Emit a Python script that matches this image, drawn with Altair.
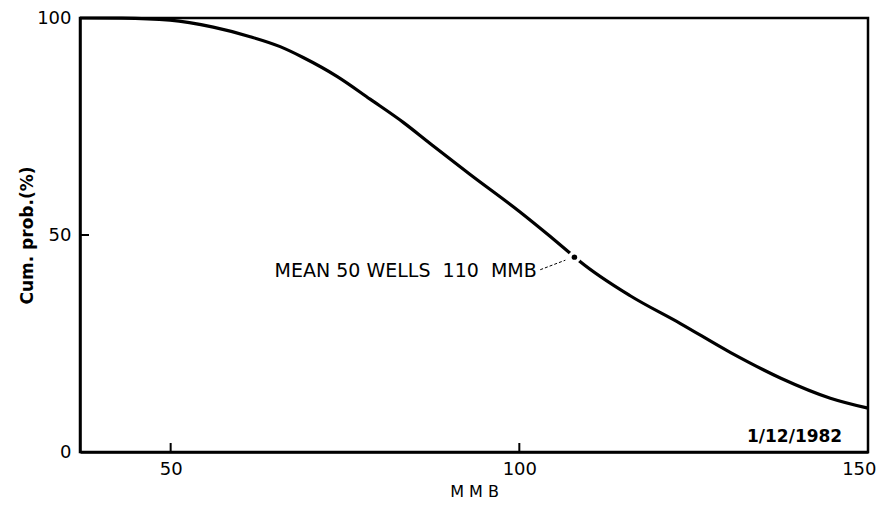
import altair as alt
import pandas as pd

# Curve
mmb = [37.0, 43.0, 49.9, 56.1, 61.4, 65.7, 69.0, 73.9, 78.6, 83.4, 87.2, 92.9, 100.1,
       104.4, 107.3, 108.7, 115.9, 123.1, 130.3, 137.5, 144.6, 150.0]
cum_prob = [100.0, 99.95, 99.5, 97.9, 95.7, 93.4, 90.9, 86.5, 81.3, 75.9, 71.1, 64.0, 55.3,
            49.7, 45.8, 43.9, 36.0, 29.6, 22.9, 17.0, 12.4, 10.1]

x_ticks = [50, 100, 150]
y_ticks = [0, 50, 100]
x_inner_ticks = [50, 100]
y_inner_ticks = [50]

mean_x = [107.9]
mean_y = [44.9]
mean_label = ["MEAN 50 WELLS \u00a0110 \u00a0MMB"]
label_x = [102.5]
label_y = [41.6]
leader_x = [103.0]
leader_y = [42.0]
leader_x2 = [106.6]
leader_y2 = [44.2]

date_label = ["1/12/1982"]
date_x = [146.3]
date_y = [3.4]

FONT = "DejaVu Sans"
xs = alt.Scale(domain=[37.0, 150], nice=False, zero=False)
ys = alt.Scale(domain=[0, 100], nice=False)

curve_df = pd.DataFrame({"MMB": mmb, "p": cum_prob})

curve = alt.Chart(curve_df).mark_line(color="black", strokeWidth=3.2, interpolate="monotone").encode(
    x=alt.X("MMB:Q", scale=xs,
            axis=alt.Axis(values=x_ticks, ticks=False, grid=False, title="M M B",
                          labelFontSize=18, labelFont=FONT, labelColor="black",
                          labelPadding=8, titleFontSize=16, titleFont=FONT,
                          titleFontWeight="normal", titleColor="black", titlePadding=5,
                          domainColor="black", domainWidth=2.5,
                          labelFlush=True, labelFlushOffset=8)),
    y=alt.Y("p:Q", scale=ys,
            axis=alt.Axis(values=y_ticks, ticks=False, grid=False, title="Cum. prob.(%)",
                          labelFontSize=18, labelFont=FONT, labelColor="black",
                          labelPadding=9, titleFontSize=17, titleFont=FONT,
                          titleFontWeight="bold", titleColor="black", titlePadding=0,
                          domainColor="black", domainWidth=2.5, labelFlush=False)),
)

xt = alt.Chart(pd.DataFrame({"t": x_inner_ticks})).mark_rule(color="black", strokeWidth=2).encode(
    x=alt.X("t:Q", scale=xs), y=alt.value(434), y2=alt.value(425))
yt = alt.Chart(pd.DataFrame({"t": y_inner_ticks})).mark_rule(color="black", strokeWidth=2).encode(
    y=alt.Y("t:Q", scale=ys), x=alt.value(0), x2=alt.value(9))

mean_pt = alt.Chart(pd.DataFrame({"x": mean_x, "y": mean_y})).mark_point(
    filled=True, color="black", size=30, stroke="white", strokeWidth=7, opacity=1).encode(
    x=alt.X("x:Q", scale=xs), y=alt.Y("y:Q", scale=ys))
mean_dot = alt.Chart(pd.DataFrame({"x": mean_x, "y": mean_y})).mark_point(
    filled=True, color="black", size=30, opacity=1).encode(
    x=alt.X("x:Q", scale=xs), y=alt.Y("y:Q", scale=ys))

leader = alt.Chart(pd.DataFrame({"x": leader_x, "y": leader_y, "x2": leader_x2, "y2": leader_y2})).mark_rule(
    color="black", strokeWidth=1, strokeDash=[3, 2]).encode(
    x=alt.X("x:Q", scale=xs), y=alt.Y("y:Q", scale=ys), x2="x2:Q", y2="y2:Q")

label = alt.Chart(pd.DataFrame({"x": label_x, "y": label_y, "t": mean_label})).mark_text(
    align="right", baseline="middle", font=FONT, fontSize=19, color="black").encode(
    x=alt.X("x:Q", scale=xs), y=alt.Y("y:Q", scale=ys), text="t:N")

date = alt.Chart(pd.DataFrame({"x": date_x, "y": date_y, "t": date_label})).mark_text(
    align="right", baseline="middle", font=FONT, fontSize=17, fontWeight="bold", color="black").encode(
    x=alt.X("x:Q", scale=xs), y=alt.Y("y:Q", scale=ys), text="t:N")

chart = alt.layer(curve, xt, yt, mean_pt, mean_dot, leader, label, date).properties(
    width=788, height=434,
    autosize=alt.AutoSizeParams(type="none"),
    padding={"left": 72, "top": 10, "right": 11, "bottom": 48},
    background="white",
).configure_view(stroke="black", strokeWidth=2.5)

chart.save("out.html", embed_options={"renderer": "svg", "actions": False})
